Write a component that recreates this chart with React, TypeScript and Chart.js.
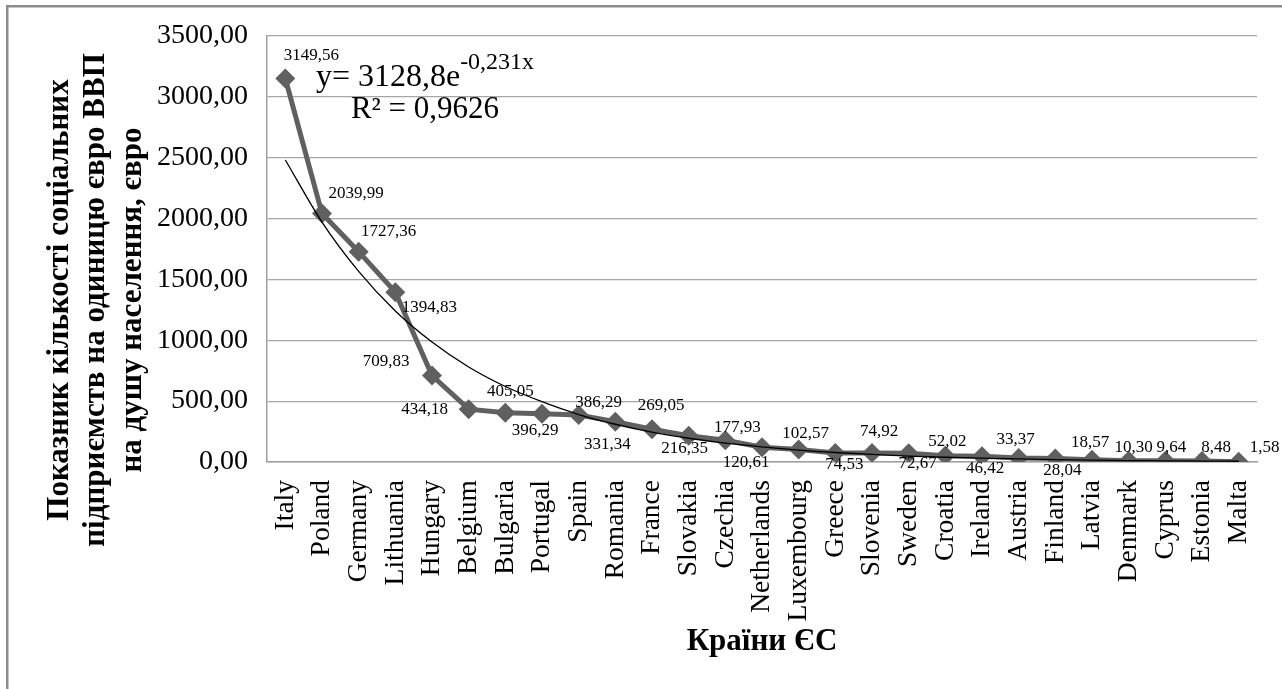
import React, { useEffect, useRef } from "react";
import { Chart, registerables } from "chart.js";

Chart.register(...registerables);

const countries = [
  "Italy", "Poland", "Germany", "Lithuania", "Hungary", "Belgium", "Bulgaria",
  "Portugal", "Spain", "Romania", "France", "Slovakia", "Czechia", "Netherlands",
  "Luxembourg", "Greece", "Slovenia", "Sweden", "Croatia", "Ireland", "Austria",
  "Finland", "Latvia", "Denmark", "Cyprus", "Estonia", "Malta",
];

const values = [
  3149.56, 2039.99, 1727.36, 1394.83, 709.83, 434.18, 405.05, 396.29, 386.29,
  331.34, 269.05, 216.35, 177.93, 120.61, 102.57, 74.53, 74.92, 72.67, 52.02,
  46.42, 33.37, 28.04, 18.57, 10.3, 9.64, 8.48, 1.58,
];

// exponential trendline
const trendValues = [
  2480, 1970, 1565, 1240, 985, 780, 620, 495, 390, 310, 245, 195, 155, 125, 98,
  78, 62, 49, 39, 31, 25, 19, 15, 12, 10, 8, 6,
];

const yTickLabels = [
  "0,00", "500,00", "1000,00", "1500,00", "2000,00", "2500,00", "3000,00", "3500,00",
];

const yAxisTitle = [
  "Показник кількості соціальних",
  "підприємств на одиницю євро ВВП",
  "на душу населення, євро",
];
const xAxisTitle = "Країни ЄС";
const equationMain = "y= 3128,8e";
const equationExp = "-0,231x";
const rSquared = "R² = 0,9626";

// label placement (dx, dy from the point) — style only
const labelOffsets: [number, number][] = [
  [26, -23], [34, -20], [30, -20], [34, 15], [-46, -14], [-44, 0], [5, -21],
  [-7, 17], [20, -12], [-8, 23], [9, -24], [-4, 13], [12, -13], [-16, 15],
  [7, -16], [9, 12], [7, -21], [9, 10], [2, -14], [3, 12], [-3, -18], [7, 12],
  [-2, -17], [5, -13], [6, -13], [14, -13], [26, -14],
];

const fmt = (v: number) => v.toFixed(2).replace(".", ",");

const SERIF = '"Liberation Serif", "Times New Roman", serif';

const decorPlugin = {
  id: "decor",
  beforeDraw(chart: any) {
    const ctx = chart.ctx;
    ctx.save();
    ctx.fillStyle = "#ffffff";
    ctx.fillRect(0, 0, chart.width, chart.height);
    ctx.fillStyle = "#8c8c8c";
    ctx.fillRect(6, 5, chart.width, 2.5);
    ctx.fillRect(6, 5, 2.5, chart.height);
    ctx.restore();
  },
  afterDatasetsDraw(chart: any) {
    const ctx = chart.ctx;
    const meta = chart.getDatasetMeta(1);
    ctx.save();
    ctx.font = `17px ${SERIF}`;
    ctx.fillStyle = "#000";
    ctx.textAlign = "center";
    ctx.textBaseline = "middle";
    meta.data.forEach((pt: any, i: number) => {
      const [dx, dy] = labelOffsets[i] || [0, -14];
      ctx.fillText(fmt(values[i]), pt.x + dx, pt.y + dy);
    });
    ctx.restore();
  },
  afterDraw(chart: any) {
    const ctx = chart.ctx;
    const area = chart.chartArea;
    ctx.save();
    // y axis title
    ctx.font = `bold 31px ${SERIF}`;
    ctx.fillStyle = "#000";
    ctx.textAlign = "center";
    ctx.textBaseline = "middle";
    yAxisTitle.forEach((line, i) => {
      ctx.save();
      ctx.translate(59.5 + i * 36.5, 300);
      ctx.rotate(-Math.PI / 2);
      ctx.fillText(line, 0, 0);
      ctx.restore();
    });
    // equation
    ctx.textAlign = "left";
    ctx.textBaseline = "alphabetic";
    ctx.font = `32px ${SERIF}`;
    const w1 = ctx.measureText(equationMain).width;
    ctx.font = `24px ${SERIF}`;
    const w2 = ctx.measureText(equationExp).width;
    const cx = area.left + 158;
    const sx = cx - (w1 + w2) / 2;
    ctx.font = `32px ${SERIF}`;
    ctx.fillText(equationMain, sx, area.top + 50);
    ctx.font = `24px ${SERIF}`;
    ctx.fillText(equationExp, sx + w1, area.top + 33);
    ctx.font = `31px ${SERIF}`;
    ctx.textAlign = "center";
    ctx.fillText(rSquared, cx, area.top + 82);
    ctx.restore();
  },
};

export default function App() {
  const ref = useRef<HTMLCanvasElement | null>(null);

  useEffect(() => {
    if (!ref.current) return;
    const chart = new Chart(ref.current, {
      type: "line",
      data: {
        labels: countries,
        datasets: [
          {
            label: "trend",
            data: trendValues,
            borderColor: "#000000",
            borderWidth: 1.3,
            pointRadius: 0,
            tension: 0.4,
            cubicInterpolationMode: "monotone",
            fill: false,
          },
          {
            label: "values",
            data: values,
            borderColor: "#606060",
            backgroundColor: "#606060",
            borderWidth: 5,
            pointStyle: "rectRot",
            pointRadius: 10,
            pointBorderWidth: 0,
            pointBackgroundColor: "#606060",
            tension: 0,
            fill: false,
          },
        ],
      },
      options: {
        responsive: false,
        animation: false,
        devicePixelRatio: 1,
        layout: { padding: { left: 0, top: 35, right: 25, bottom: 0 } },
        plugins: {
          legend: { display: false },
          tooltip: { enabled: false },
        },
        scales: {
          x: {
            type: "category",
            offset: true,
            grid: { display: false, drawTicks: false },
            border: { display: true, color: "#a0a0a0", width: 1.5 },
            ticks: {
              autoSkip: false,
              maxRotation: 90,
              minRotation: 90,
              padding: 18,
              color: "#000",
              font: { family: SERIF, size: 27.5 },
            },
            title: {
              display: true,
              text: xAxisTitle,
              color: "#000",
              font: { family: SERIF, size: 31, weight: "bold", lineHeight: 1.2 },
              padding: { top: 0, bottom: 28 },
            },
            afterFit(scale: any) {
              scale.height = 227;
              scale.paddingLeft = 0;
              scale.paddingRight = 0;
            },
          },
          y: {
            min: 0,
            max: 3500,
            grid: { color: "#a6a6a6", lineWidth: 1.2, drawTicks: false },
            border: { display: true, color: "#a0a0a0", width: 1.5 },
            ticks: {
              stepSize: 500,
              padding: 19,
              color: "#000",
              font: { family: SERIF, size: 28 },
              callback: (_v: any, i: number) => yTickLabels[i],
            },
            afterFit(scale: any) {
              scale.width = 267;
            },
          },
        },
      },
      plugins: [decorPlugin],
    } as any);
    return () => chart.destroy();
  }, []);

  return (
    <div style={{ position: "fixed", left: 0, top: 0, width: 1282, height: 689, background: "#fff" }}>
      <canvas ref={ref} width={1282} height={689} style={{ display: "block" }} />
    </div>
  );
}
